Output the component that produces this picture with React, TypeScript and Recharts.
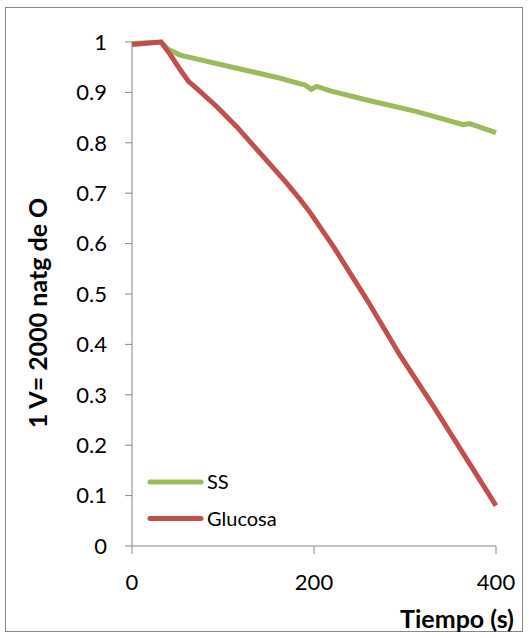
import React from "react";
import { LineChart, Line, XAxis, YAxis } from "recharts";

const ssTimes = [0, 32, 40, 53, 108, 163, 185, 190, 197, 203, 218, 258, 313, 364, 371, 400];
const ssValues = [0.997, 1.0, 0.985, 0.974, 0.951, 0.928, 0.917, 0.915, 0.906, 0.912, 0.903, 0.885, 0.862, 0.836, 0.838, 0.82];

const glucosaTimes = [0, 32, 42, 53, 62, 71, 93, 115, 144, 170, 185, 196, 221, 258, 295, 331, 368, 400];
const glucosaValues = [0.995, 1.0, 0.975, 0.945, 0.922, 0.908, 0.872, 0.832, 0.773, 0.72, 0.687, 0.661, 0.595, 0.489, 0.377, 0.278, 0.172, 0.08];

const xTicks = [0, 200, 400];
const yTicks = [0, 0.1, 0.2, 0.3, 0.4, 0.5, 0.6, 0.7, 0.8, 0.9, 1];

const ssData = ssTimes.map((t, i) => ({ t, v: ssValues[i] }));
const glucosaData = glucosaTimes.map((t, i) => ({ t, v: glucosaValues[i] }));

const GREEN = "#9BBB59";
const RED = "#C0504D";
const AXIS = "#868686";
const FONT = "Lato, 'Open Sans', sans-serif";

const legendItems = [
  { name: "SS", color: GREEN },
  { name: "Glucosa", color: RED },
];

// legend sits inside the plot, lower left
const LegendBox = () => (
  <svg width={160} height={70} style={{ position: "absolute", left: 146, top: 468 }}>
    {legendItems.map((it, i) => (
      <g key={it.name} transform={`translate(0, ${14 + i * 36.6})`}>
        <line x1={4} x2={55} y1={0} y2={0} stroke={it.color} strokeWidth={5} strokeLinecap="round" />
        <text x={61} y={7} fontSize={20} fontFamily={FONT} fill="#000">
          {it.name}
        </text>
      </g>
    ))}
  </svg>
);

export default function App() {
  return (
    <div style={{ position: "fixed", left: 0, top: 0, width: 529, height: 638, background: "#fff" }}>
      <div
        style={{
          position: "absolute",
          left: 5,
          top: 7,
          width: 518,
          height: 625,
          border: `1px solid ${AXIS}`,
          boxSizing: "border-box",
        }}
      />
      <LineChart
        width={529}
        height={638}
        margin={{ top: 42, right: 33, bottom: 0, left: 0 }}
        style={{ position: "absolute", left: 0, top: 0 }}
      >
        <XAxis
          dataKey="t"
          type="number"
          domain={[0, 400]}
          ticks={xTicks}
          allowDuplicatedCategory={false}
          height={92}
          stroke={AXIS}
          tickLine={{ stroke: AXIS }}
          tickSize={8}
          tick={{ fontSize: 22, fill: "#000", fontFamily: FONT, dy: 18 }}
          label={{
            content: () => (
              <text x={514} y={628} textAnchor="end" fontSize={25} fontWeight={700} fontFamily={FONT} fill="#000">
                Tiempo (s)
              </text>
            ),
          }}
        />
        <YAxis
          dataKey="v"
          type="number"
          domain={[0, 1]}
          ticks={yTicks}
          width={132}
          stroke={AXIS}
          tickLine={{ stroke: AXIS }}
          tickSize={7}
          tick={{ fontSize: 22, fill: "#000", fontFamily: FONT, dx: -16 }}
          tickFormatter={(v: number) => String(Math.round(v * 10) / 10)}
          label={{
            content: () => (
              <text
                x={47}
                y={313}
                transform="rotate(-90 47 313)"
                textAnchor="middle"
                fontSize={25}
                fontWeight={700}
                fontFamily={FONT}
                fill="#000"
              >
                1 V= 2000 natg de O
              </text>
            ),
          }}
        />
        <Line
          data={ssData}
          dataKey="v"
          name="SS"
          type="linear"
          stroke={GREEN}
          strokeWidth={5}
          dot={false}
          isAnimationActive={false}
        />
        <Line
          data={glucosaData}
          dataKey="v"
          name="Glucosa"
          type="linear"
          stroke={RED}
          strokeWidth={5}
          dot={false}
          isAnimationActive={false}
        />
      </LineChart>
      <LegendBox />
    </div>
  );
}
